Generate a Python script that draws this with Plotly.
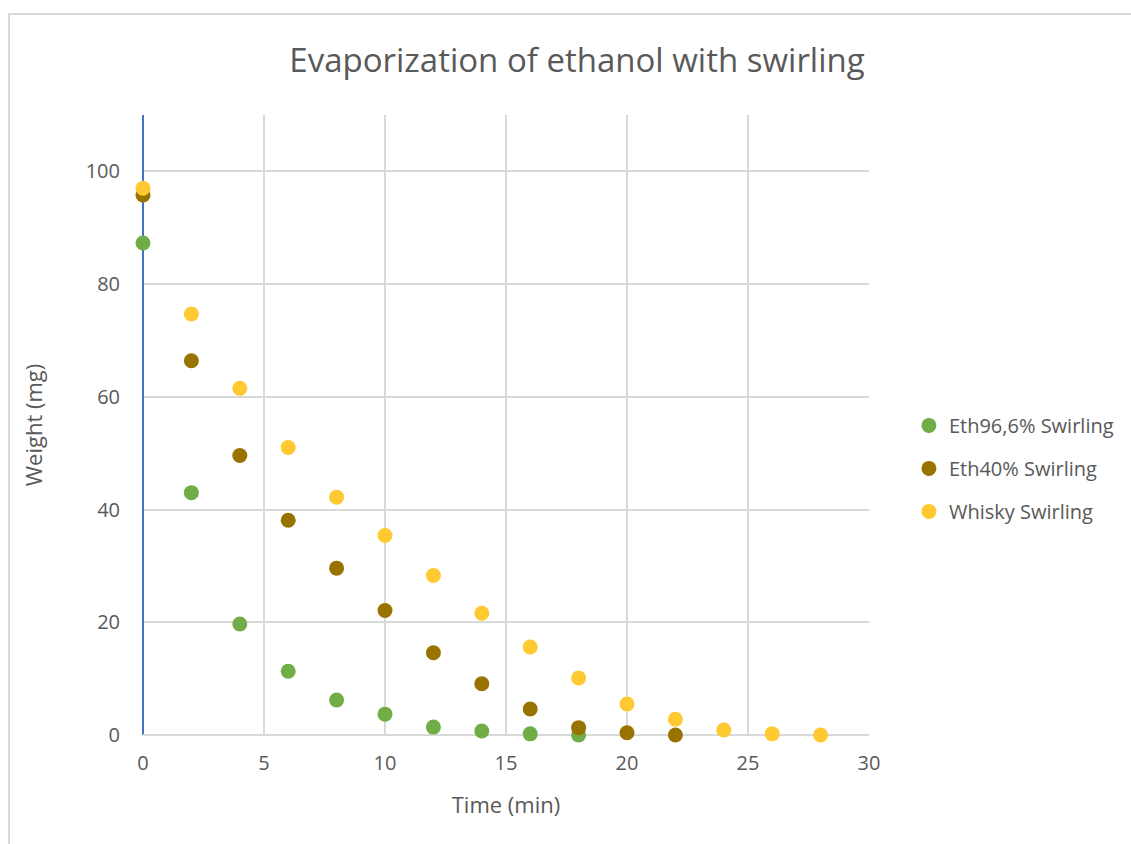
import plotly.graph_objects as go

time_eth96 = [0, 2, 4, 6, 8, 10, 12, 14, 16, 18]
weight_eth96 = [87.3, 43.0, 19.7, 11.3, 6.2, 3.7, 1.4, 0.7, 0.2, 0.0]

time_eth40 = [0, 2, 4, 6, 8, 10, 12, 14, 16, 18, 20, 22]
weight_eth40 = [95.8, 66.4, 49.6, 38.1, 29.6, 22.1, 14.6, 9.1, 4.6, 1.3, 0.4, 0.0]

time_whisky = [0, 2, 4, 6, 8, 10, 12, 14, 16, 18, 20, 22, 24, 26, 28]
weight_whisky = [97.0, 74.7, 61.5, 51.0, 42.2, 35.4, 28.3, 21.6, 15.6, 10.1, 5.5, 2.8, 0.9, 0.2, 0.0]

series_names = ["Eth96,6% Swirling", "Eth40% Swirling", "Whisky Swirling"]
colors = ["#70AD47", "#997300", "#FFC931"]

font_family = "Open Sans, Liberation Sans, sans-serif"
grey = "#595959"

fig = go.Figure()
for i, (xs, ys) in enumerate([(time_eth96, weight_eth96), (time_eth40, weight_eth40), (time_whisky, weight_whisky)]):
    fig.add_trace(go.Scatter(
        x=xs, y=ys, mode="markers", name=series_names[i],
        legendgroup=f"g{i}", cliponaxis=False,
        marker=dict(color=colors[i], size=15, line=dict(width=0)),
    ))

fig.update_layout(
    width=1131, height=844,
    paper_bgcolor="white", plot_bgcolor="white",
    margin=dict(l=143, r=262, t=115, b=109),
    font=dict(family=font_family, color=grey, size=20),
    title=dict(text="Evaporization of ethanol with swirling", x=577 / 1131, xanchor="center",
               y=1 - 60 / 844, yanchor="middle",
               font=dict(size=33, color=grey)),
    showlegend=True,
    legend=dict(x=1.055, xanchor="left", y=0.43, yanchor="middle",
                font=dict(size=20, color=grey), tracegroupgap=14,
                itemsizing="trace", itemwidth=30, bgcolor="rgba(0,0,0,0)"),
    xaxis=dict(range=[0, 30], dtick=5, showgrid=True, gridcolor="#D9D9D9", gridwidth=1.5,
               zeroline=True, zerolinecolor="#4472C4", zerolinewidth=2,
               showline=False, ticks="", ticklen=0, ticklabelstandoff=14,
               tickfont=dict(size=20, color=grey),
               title=dict(text="Time (min)", font=dict(size=22, color=grey), standoff=22)),
    yaxis=dict(range=[0, 110], tickvals=[0, 20, 40, 60, 80, 100], showgrid=True,
               gridcolor="#D9D9D9", gridwidth=1.5,
               zeroline=True, zerolinecolor="#D9D9D9", zerolinewidth=2,
               showline=False, ticks="", ticklen=0, ticklabelstandoff=22,
               tickfont=dict(size=20, color=grey),
               title=dict(text="Weight (mg)", font=dict(size=22, color=grey), standoff=36)),
)

fig.add_shape(type="rect", xref="paper", yref="paper",
              x0=(9 - 143) / 726, x1=2.0, y0=-0.5, y1=(735 - 14) / 620,
              line=dict(color="#D9D9D9", width=2), fillcolor="rgba(0,0,0,0)", layer="below")

fig.write_html("out.html")
